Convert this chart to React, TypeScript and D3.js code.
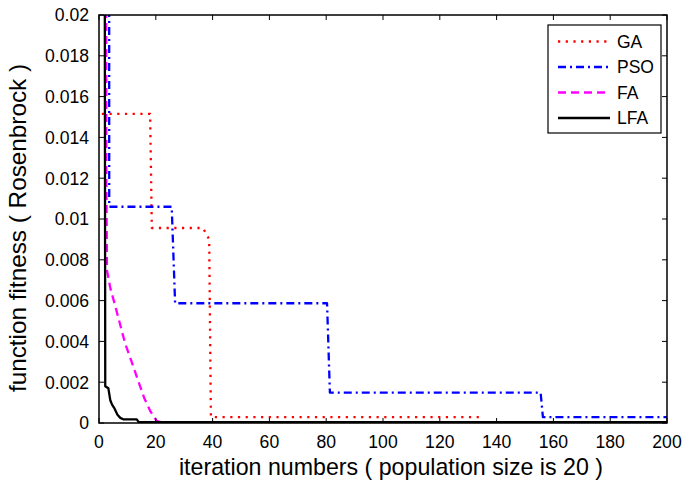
import React from "react"
import * as d3 from "d3"

// values: [iteration, fitness]
const gaData: [number, number][] = [
  [1, 0.01515], [18, 0.01515], [18.6, 0.00956], [36.6, 0.00956], [38.8, 0.009],
  [39.4, 0.00029], [134, 0.00029],
]
const psoData: [number, number][] = [
  [3.5, 0.06], [3.6, 0.0106], [25.6, 0.0106], [26.8, 0.00587], [80.3, 0.00587],
  [81.3, 0.00149], [155.5, 0.00149], [156.3, 0.00029], [200, 0.00029],
]
const faData: [number, number][] = [
  [2.3, 0.04], [2.6, 0.012], [2.8, 0.0075], [4, 0.0066], [5.6, 0.0058], [7.5, 0.0048],
  [9.2, 0.0039], [11.5, 0.003], [13.7, 0.0021], [16, 0.0012], [18, 0.0006],
  [20.3, 0.0001], [22, 0.00004], [200, 0.00003],
]
const lfaData: [number, number][] = [
  [1.8, 0.05], [2.2, 0.0018], [3.3, 0.0017], [4, 0.0011], [4.6, 0.0009], [5.5, 0.0007],
  [6.5, 0.0004], [7.5, 0.00025], [8.5, 0.00018], [13.3, 0.00018], [14, 0.00004],
  [200, 0.00004],
]
const xTicks = [0, 20, 40, 60, 80, 100, 120, 140, 160, 180, 200]
const yTicks = [0, 0.002, 0.004, 0.006, 0.008, 0.01, 0.012, 0.014, 0.016, 0.018, 0.02]

const series = [
  { name: "GA", data: gaData, color: "#ff0000", dash: "2.2,5.5" },
  { name: "PSO", data: psoData, color: "#0000ff", dash: "8,4,2,4" },
  { name: "FA", data: faData, color: "#ff00ff", dash: "8,5" },
  { name: "LFA", data: lfaData, color: "#000000", dash: "none" },
]

const width = 684
const height = 485
const margin = { top: 15, right: 17, bottom: 62, left: 99 }
const font = "'Liberation Sans', Arial, Helvetica, sans-serif"

const App = () => {
  const x = d3.scaleLinear().domain([0, 200]).range([margin.left, width - margin.right])
  const y = d3.scaleLinear().domain([0, 0.02]).range([height - margin.bottom, margin.top])
  const line = d3
    .line<[number, number]>()
    .x(d => x(d[0]))
    .y(d => y(d[1]))
  const x0 = x(0), x1 = x(200), y0 = y(0), y1 = y(0.02)
  const tick = 5
  const fmt = (v: number) => (v === 0 ? "0" : String(+v.toFixed(3)))

  const legend = { x: 548, y: 25, w: 113, h: 108 }

  return (
    <svg width={width} height={height} style={{ position: "absolute", left: 0, top: 0, background: "#fff" }}>
      <defs>
        <clipPath id="plot">
          <rect x={x0} y={y1} width={x1 - x0} height={y0 - y1} />
        </clipPath>
      </defs>
      <g clipPath="url(#plot)">
        {series.map(s => (
          <path
            key={s.name}
            d={line(s.data) || ""}
            fill="none"
            stroke={s.color}
            strokeWidth={2.3}
            strokeDasharray={s.dash}
            strokeLinejoin="round"
          />
        ))}
      </g>
      {/* ticks inside on all four sides */}
      <g stroke="#000" strokeWidth={1}>
        {xTicks.map(t => (
          <g key={"x" + t}>
            <line x1={x(t)} x2={x(t)} y1={y0} y2={y0 - tick} />
            <line x1={x(t)} x2={x(t)} y1={y1} y2={y1 + tick} />
          </g>
        ))}
        {yTicks.map(t => (
          <g key={"y" + t}>
            <line x1={x0} x2={x0 + tick} y1={y(t)} y2={y(t)} />
            <line x1={x1} x2={x1 - tick} y1={y(t)} y2={y(t)} />
          </g>
        ))}
      </g>
      <rect x={x0} y={y1} width={x1 - x0} height={y0 - y1} fill="none" stroke="#000" strokeWidth={1.5} />
      <g fontFamily={font} fontSize={17.6} fill="#000">
        {xTicks.map(t => (
          <text key={"xl" + t} x={x(t)} y={y0 + 25} textAnchor="middle">
            {t}
          </text>
        ))}
        {yTicks.map(t => (
          <text key={"yl" + t} x={x0 - 10} y={y(t) + 6.3} textAnchor="end">
            {fmt(t)}
          </text>
        ))}
      </g>
      <text x={391} y={475} textAnchor="middle" fontFamily={font} fontSize={23.2}>
        iteration numbers ( population size is 20 )
      </text>
      <text
        transform={`translate(26, 228) rotate(-90)`}
        textAnchor="middle"
        fontFamily={font}
        fontSize={24.3}
      >
        function fitness ( Rosenbrock )
      </text>
      <g>
        <rect x={legend.x} y={legend.y} width={legend.w} height={legend.h} fill="#fff" stroke="#000" strokeWidth={1.2} />
        {series.map((s, i) => {
          const ly = legend.y + 16.5 + i * 25.5
          return (
            <g key={"lg" + s.name}>
              <line x1={558} x2={610} y1={ly} y2={ly} stroke={s.color} strokeWidth={2.3} strokeDasharray={s.dash} />
              <text x={617} y={ly + 6.3} fontFamily={font} fontSize={17.5}>
                {s.name}
              </text>
            </g>
          )
        })}
      </g>
    </svg>
  )
}

export default App
